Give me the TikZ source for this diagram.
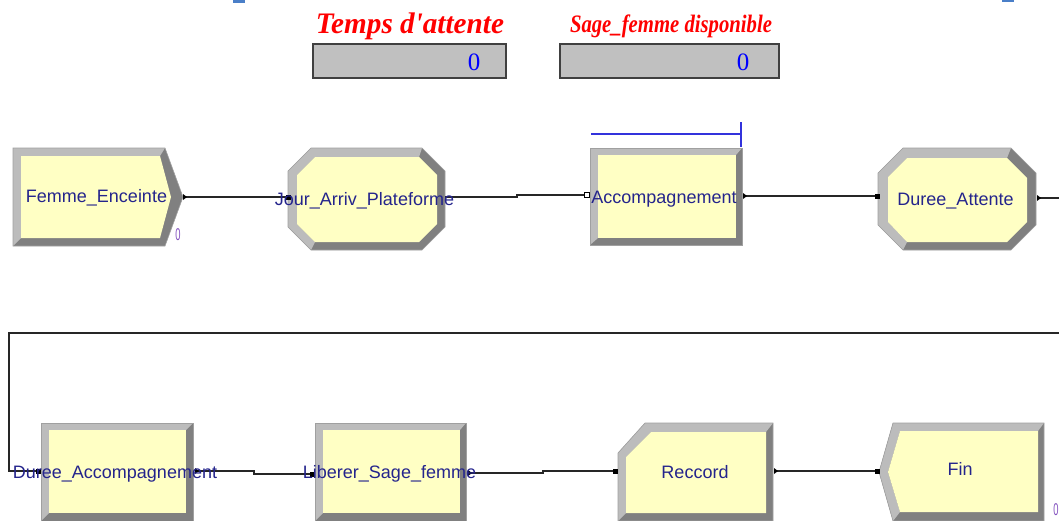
\documentclass[tikz,border=0pt]{standalone}
\usepackage{fontspec}
\usepackage{graphicx}
\setmainfont{Liberation Sans}
\newfontfamily\serifttl{Liberation Serif}
\definecolor{bevdark}{RGB}{128,128,128}
\definecolor{bevlight}{RGB}{188,188,188}
\definecolor{bevedge}{RGB}{160,160,160}
\definecolor{blockfill}{RGB}{255,255,196}
\definecolor{lblc}{RGB}{36,36,140}
\definecolor{cntc}{RGB}{130,80,190}
\definecolor{valbox}{RGB}{192,192,192}
\definecolor{ttlred}{RGB}{255,0,0}
\definecolor{valblue}{RGB}{0,0,255}
\definecolor{resblue}{RGB}{50,50,220}
\definecolor{topblue}{RGB}{74,127,200}
\tikzset{
  dk/.style={fill=bevdark},
  lt/.style={fill=bevlight},
  yl/.style={fill=blockfill},
  edge/.style={draw=bevedge, line width=0.6pt},
  conn/.style={draw=black!85, line width=1.2pt},
  lbl/.style={text=lblc, font=\fontsize{18}{18}\selectfont, inner sep=0pt, anchor=base},
  ttl/.style={text=ttlred, inner sep=0pt},
  valnode/.style={text=valblue, font=\serifttl\fontsize{25}{25}\selectfont, inner sep=0pt},
  vbox/.style={fill=valbox, draw=black!75, line width=1.5pt},
  cnt/.style={text=cntc, font=\fontsize{17}{17}\selectfont, inner sep=0pt},
  mk/.style={fill=black},
}
\begin{document}
\begin{tikzpicture}[x=1pt,y=-1pt]
\useasboundingbox (0,0) rectangle (1059,520);
\clip (0,0) rectangle (1059,520);

% cropped fragments at the top edge
\fill[topblue] (233,0) rectangle (245,2.5);
\fill[topblue] (1002,0) rectangle (1014,2);

% titles and value boxes
\node[ttl] (t1) at (410,26.5) {\resizebox*{188pt}{27pt}{\serifttl\bfseries\itshape Temps d'attente}};
\node[ttl] (t2) at (671,26) {\resizebox*{202pt}{23pt}{\serifttl\bfseries\itshape Sage\_femme disponible}};
\draw[vbox] (313,44) rectangle (506,78);
\draw[vbox] (560,44) rectangle (779,78);
\node[valnode] (v1) at (474,62) {0};
\node[valnode] (v2) at (743,62) {0};

% ---------- top row ----------
% Femme_Enceinte (create)
\fill[dk] (13,148) -- (165,148) -- (183,197) -- (165,246) -- (13,246) -- cycle;
\fill[lt] (13,246) -- (13,148) -- (165,148) -- (160,156) -- (21,156) -- (21,238) -- cycle;
\fill[yl] (21,156) -- (160,156) -- (171,197) -- (160,238) -- (21,238) -- cycle;
\draw[edge] (13,148) -- (165,148) -- (183,197) -- (165,246) -- (13,246) -- cycle;

% Jour_Arriv_Plateforme (octagon)
\fill[dk] (311,148) -- (422,148) -- (445,171) -- (445,227) -- (422,250) -- (311,250) -- (288,227) -- (288,171) -- cycle;
\fill[lt] (311,250) -- (288,227) -- (288,171) -- (311,148) -- (422,148) -- (419,157) -- (315,157) -- (297,175) -- (297,224) -- (315,242) -- cycle;
\fill[yl] (315,157) -- (419,157) -- (437,175) -- (437,224) -- (419,242) -- (315,242) -- (297,224) -- (297,175) -- cycle;
\draw[edge] (311,148) -- (422,148) -- (445,171) -- (445,227) -- (422,250) -- (311,250) -- (288,227) -- (288,171) -- cycle;

% Accompagnement (rectangle)
\fill[dk] (590,148) rectangle (742,245);
\fill[lt] (590,245) -- (590,148) -- (742,148) -- (736,155) -- (598,155) -- (598,238) -- cycle;
\fill[yl] (598,155) rectangle (736,238);
\draw[edge] (590,148) rectangle (742,245);
\draw[resblue, line width=1.2pt] (591,134) -- (741,134);
\draw[resblue, line width=1.2pt] (741,122) -- (741,147);

% Duree_Attente (octagon)
\fill[dk] (903,148) -- (1011,148) -- (1036,173) -- (1036,225) -- (1011,250) -- (903,250) -- (878,225) -- (878,173) -- cycle;
\fill[lt] (903,250) -- (878,225) -- (878,173) -- (903,148) -- (1011,148) -- (1007,158) -- (907,158) -- (888,177) -- (888,222) -- (907,242) -- cycle;
\fill[yl] (907,158) -- (1007,158) -- (1027,178) -- (1027,222) -- (1007,242) -- (907,242) -- (888,222) -- (888,177) -- cycle;
\draw[edge] (903,148) -- (1011,148) -- (1036,173) -- (1036,225) -- (1011,250) -- (903,250) -- (878,225) -- (878,173) -- cycle;

% ---------- bottom row ----------
% Duree_Accompagnement
\fill[dk] (41,423) rectangle (193,521);
\fill[lt] (41,521) -- (41,423) -- (193,423) -- (186,430) -- (49,430) -- (49,513) -- cycle;
\fill[yl] (49,430) rectangle (186,513);
\draw[edge] (41,423) rectangle (193,521);

% Liberer_Sage_femme
\fill[dk] (315,423) rectangle (466,521);
\fill[lt] (315,521) -- (315,423) -- (466,423) -- (460,430) -- (323,430) -- (323,513) -- cycle;
\fill[yl] (323,430) rectangle (460,513);
\draw[edge] (315,423) rectangle (466,521);

% Reccord
\fill[dk] (645,423) -- (773,423) -- (773,521) -- (618,521) -- (618,453) -- cycle;
\fill[lt] (618,521) -- (618,453) -- (645,423) -- (773,423) -- (766,432) -- (651,432) -- (626,457) -- (626,513) -- cycle;
\fill[yl] (651,432) -- (766,432) -- (766,513) -- (626,513) -- (626,457) -- cycle;
\draw[edge] (645,423) -- (773,423) -- (773,521) -- (618,521) -- (618,453) -- cycle;

% Fin (dispose)
\fill[dk] (893,423) -- (1044,423) -- (1044,521) -- (893,521) -- (879,472) -- cycle;
\fill[lt] (893,521) -- (879,472) -- (893,423) -- (1044,423) -- (1038,431) -- (900,431) -- (888,472) -- (900,512) -- cycle;
\fill[yl] (900,431) -- (1038,431) -- (1038,512) -- (900,512) -- (888,472) -- cycle;
\draw[edge] (893,423) -- (1044,423) -- (1044,521) -- (893,521) -- (879,472) -- cycle;

% ---------- connection points ----------
\coordinate (femme-out) at (183,197);
\coordinate (jour-in) at (288,197);
\coordinate (jour-out) at (445,197);
\coordinate (acc-in) at (587,195);
\coordinate (acc-out) at (743,196);
\coordinate (att-in) at (877,196);
\coordinate (att-out) at (1037,198);
\coordinate (loop-tl) at (9,333);
\coordinate (dacc-in) at (38,471);
\coordinate (dacc-out) at (195,471);
\coordinate (lib-in) at (312,474);
\coordinate (lib-out) at (468,473);
\coordinate (rec-in) at (615,471);
\coordinate (rec-out) at (774,471);
\coordinate (fin-in) at (877,471);

% ---------- connectors ----------
\draw[conn] (femme-out) -- (jour-in);
\draw[conn] (jour-out) -- ++(72,0) |- (acc-in);
\draw[conn] (acc-out) -- (att-in);
\draw[conn] (att-out) -- ++(40,0) |- (loop-tl) |- (dacc-in);
\draw[conn] (dacc-out) -- ++(59,0) |- (lib-in);
\draw[conn] (lib-out) -- ++(75,0) |- (rec-in);
\draw[conn] (rec-out) -- (fin-in);

% exit markers
\foreach \p in {femme-out,acc-out,att-out,dacc-out,lib-out,rec-out}
  \fill[mk] (\p) ++(0,-3) -- ++(4,3) -- ++(-4,3) -- cycle;
% entry markers
\foreach \p in {jour-in,att-in,dacc-in,lib-in,rec-in,fin-in}
  \fill[mk] (\p) ++(-2.5,-2.5) rectangle ++(5,5);
\draw[black, fill=white, line width=0.8pt] (acc-in) ++(-2.5,-2.5) rectangle ++(5,5);

% ---------- labels ----------
\node[lbl] (l-femme) at (96.5,202) {Femme\_Enceinte};
\node[lbl] (l-jour) at (364.5,205) {Jour\_Arriv\_Plateforme};
\node[lbl] (l-acc) at (664,203) {Accompagnement};
\node[lbl] (l-att) at (955.5,205) {Duree\_Attente};
\node[lbl] (l-dacc) at (115,478) {Duree\_Accompagnement};
\node[lbl] (l-lib) at (389.5,478) {Liberer\_Sage\_femme};
\node[lbl] (l-rec) at (695,478) {Reccord};
\node[lbl] (l-fin) at (960,475) {Fin};

% counters
\node[cnt] (c-femme) at (178,235) {\scalebox{0.55}[1]{0}};
\node[cnt] (c-fin) at (1056,510) {\scalebox{0.55}[1]{0}};
\end{tikzpicture}
\end{document}
